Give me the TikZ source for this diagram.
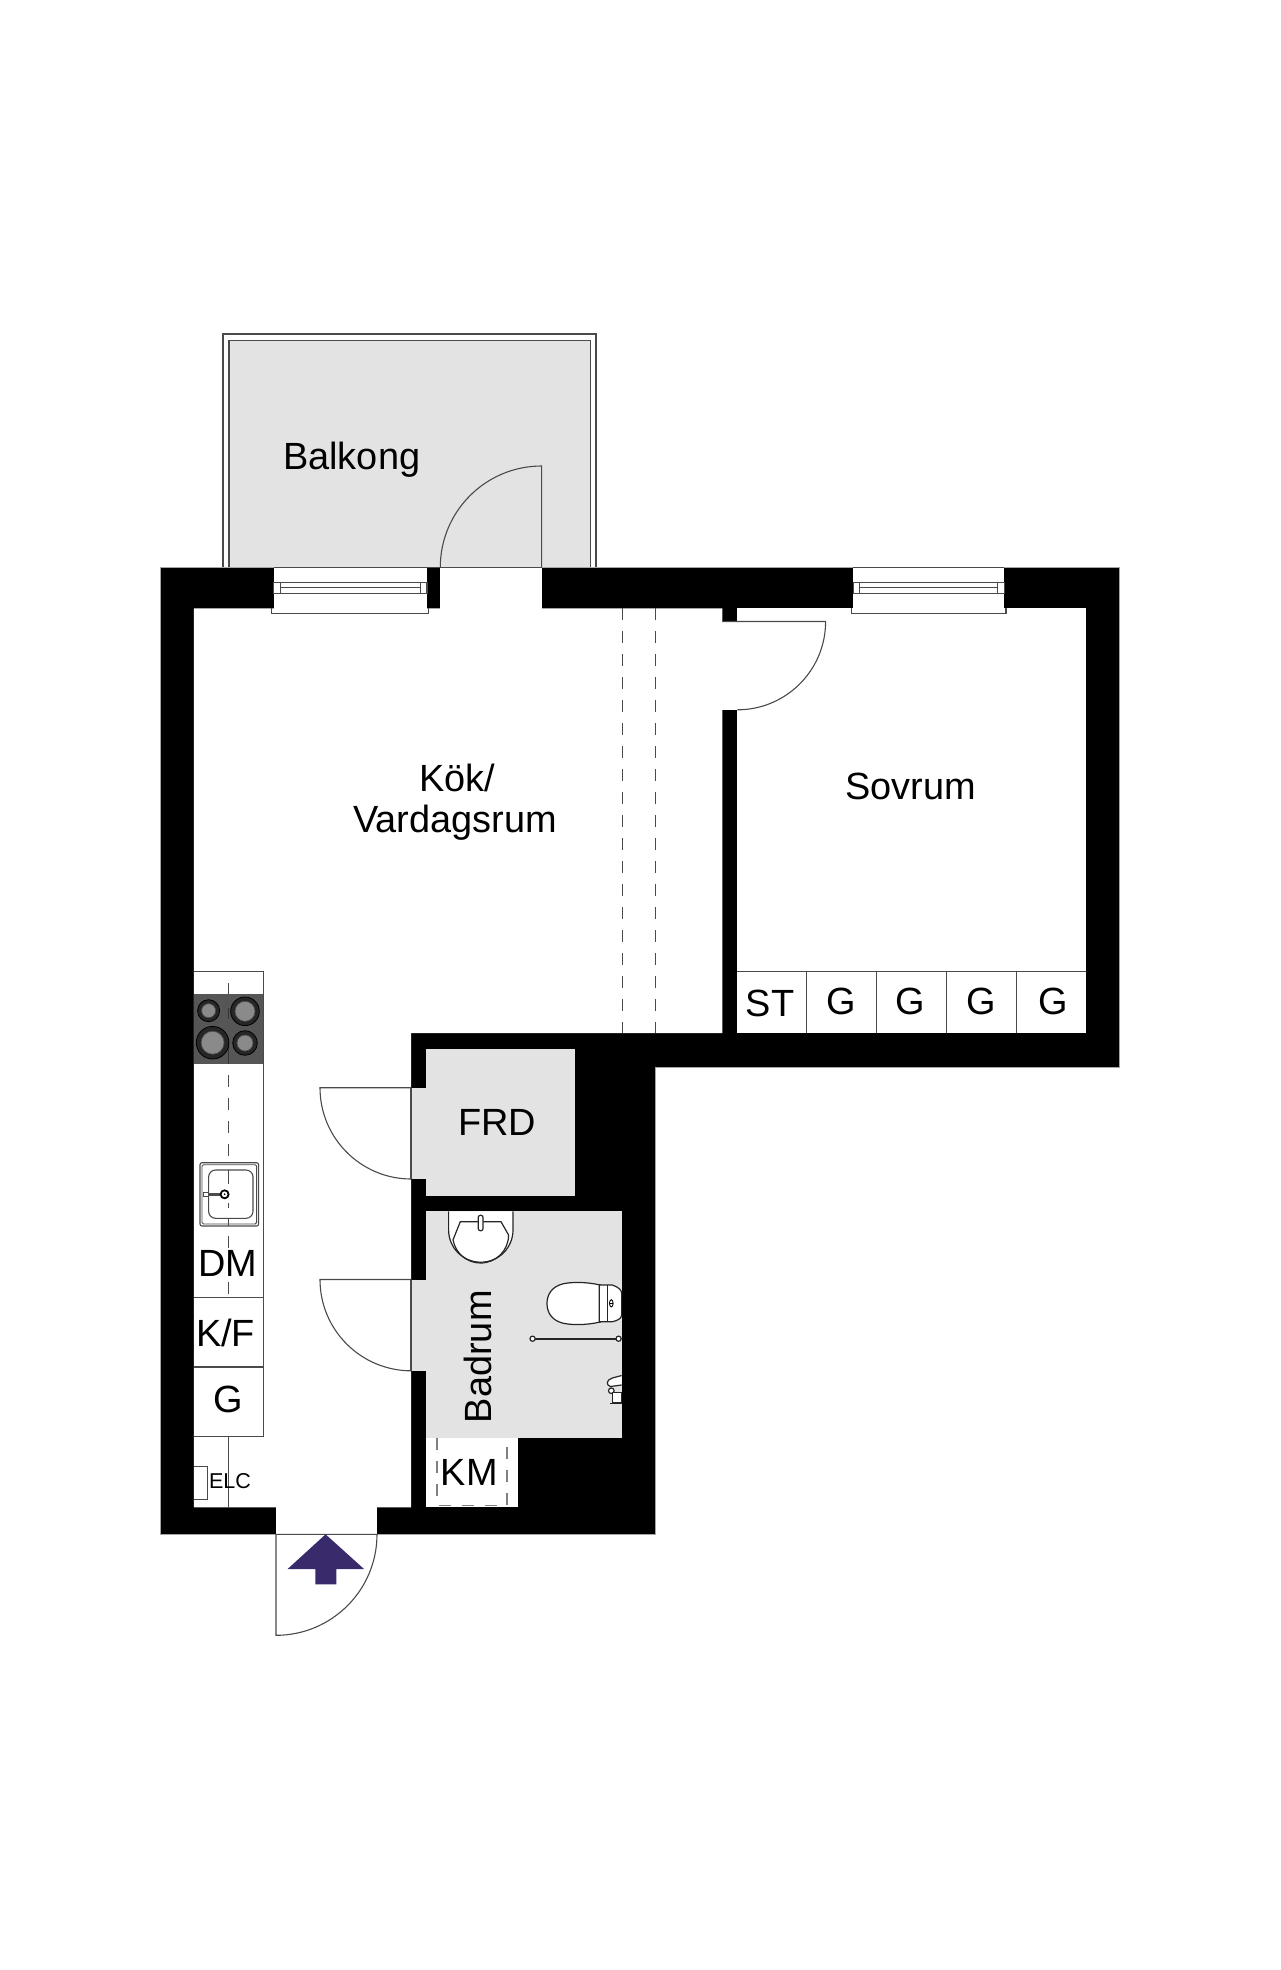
\documentclass[tikz,border=0pt]{standalone}
\usepackage{fontspec}
\setmainfont{Liberation Sans}
\definecolor{wallc}{HTML}{000000}
\definecolor{floorc}{HTML}{E3E3E3}
\definecolor{linec}{HTML}{4A4A4A}
\definecolor{hobc}{HTML}{565656}
\definecolor{burnc}{HTML}{8A8A8A}
\definecolor{arrowc}{HTML}{392A6C}
\tikzset{
 wall/.style={fill=wallc,draw=gray!70,line width=0.8pt},
 openw/.style={fill=white,draw=none},
 wetroom/.style={fill=floorc,draw=none},
 ln/.style={draw=linec,line width=1.1pt},
 fine/.style={draw=linec,line width=0.9pt},
 san/.style={draw=black!85,line width=1.2pt},
 dsh/.style={draw=linec,line width=1.1pt,dash pattern=on 12pt off 11pt},
 lab/.style={inner sep=0pt,font=\fontsize{37.9pt}{41pt}\selectfont,text=black,anchor=base},
 lab2/.style={inner sep=0pt,font=\fontsize{21.5pt}{24pt}\selectfont,text=black,anchor=base},
}
\begin{document}
\begin{tikzpicture}[x=1pt,y=-1pt]
\useasboundingbox (0,0) rectangle (1280,1970);
\fill[white] (0,0) rectangle (1280,1970);
% balcony
\fill[floorc] (229,340.3) rectangle (590.5,568);
\draw[ln] (223,568) -- (223,334) -- (596,334) -- (596,568);
\draw[ln] (229,568) -- (229,340.3) -- (590.5,340.3) -- (590.5,568);
% walls
\path[wall] (160.2,567.7) -- (1119.5,567.7) -- (1119.5,1067) -- (655.3,1067) -- (655.3,1534.3) -- (160.2,1534.3) -- cycle;
% open floors
\fill[openw] (193.8,608.3) -- (722.3,608.3) -- (722.3,1033) -- (411,1033) -- (411,1507.3) -- (193.8,1507.3) -- cycle;
\fill[openw] (737.3,608.3) rectangle (1086,1033.3);
\fill[openw] (721,621.5) rectangle (738,709.5);
\fill[openw] (440.3,567.7) rectangle (541.6,609);
\fill[openw] (276,1506) rectangle (377,1534.3);
\fill[wetroom] (426.3,1048.7) rectangle (575,1196);
\fill[wetroom] (411,1088) rectangle (427,1179.3);
\fill[wetroom] (426.3,1211.3) rectangle (621.6,1437.7);
\fill[wetroom] (411,1280) rectangle (427,1370.5);
\fill[openw] (426.3,1437.7) rectangle (518,1507);
% windows
\foreach \a/\b in {273.6/427,853.3/1004.3}{
 \fill[white] (\a,567.7) rectangle (\b,609);
 \draw[ln] (\a,567.7) -- (\b,567.7);
 \draw[ln] (\a-1.7,608.3) -- (\a-1.7,613.5) -- (\b+1.7,613.5) -- (\b+1.7,608.3);
 \draw[ln] (\a,582.3) rectangle (\b,593.5);
 \draw[ln] (\a+6.5,582.3) rectangle (\b-6.5,593.5);
 \draw[ln] (\a+6.5,587.9) -- (\b-6.5,587.9);
}
% thresholds and doors
\draw[ln] (427,567.7) -- (541.6,567.7);
\draw[ln] (541.6,567.7) -- (541.6,466) arc[start angle=90,end angle=180,radius=101.3pt];
\draw[ln] (722.3,621.5) -- (825.6,621.5) arc[start angle=0,end angle=-90,radius=88.3pt];
\draw[ln] (411,1087.7) -- (320,1087.7) arc[start angle=180,end angle=270,radius=91.3pt];
\draw[ln] (411,1279.5) -- (320,1279.5) arc[start angle=180,end angle=270,radius=91.3pt];
\draw[ln] (411,1087.7) -- (411,1179.3);
\draw[ln] (411,1279.5) -- (411,1370.7);
\draw[ln] (276,1534.3) -- (377,1534.3) arc[start angle=0,end angle=-90,radius=101pt] -- cycle;
% room divider dashes
\draw[dsh] (622.6,608.3) -- (622.6,1033);
\draw[dsh] (655.3,608.3) -- (655.3,1033);
% kitchen counter
\draw[ln] (193.8,971.3) -- (263.3,971.3) -- (263.3,1436.3) -- (193.8,1436.3);
\draw[ln] (193.8,1297.3) -- (263.3,1297.3);
\draw[ln] (193.8,1367) -- (263.3,1367);
\draw[dsh] (228.3,983) -- (228.3,1297.3);
\fill[hobc] (193.8,993.7) rectangle (263.3,1064);
\draw[ln,draw=black!80] (228.3,1008) -- (228.3,1019);
\draw[ln,draw=black!80] (228.3,1040) -- (228.3,1064);
\foreach \x/\y/\r/\c in {208.6/1010.7/11/7,245/1011.3/14.3/10,212.6/1042.7/16.3/11.5,245/1043/12.3/8}{
 \fill[black!55!hobc] (\x,\y) circle[radius=\r pt];
 \draw[line width=0.8pt,draw=black] (\x,\y) circle[radius=\r pt];
 \draw[line width=0.8pt,draw=black!85] (\x,\y) circle[radius=\r pt-2.4pt];
 \fill[burnc] (\x,\y) circle[radius=\c pt];
 \draw[line width=0.7pt,draw=black!70] (\x,\y) circle[radius=\c pt];
}
% sink
\draw[ln,rounded corners=2pt,fill=white] (200,1162.7) rectangle (258.6,1226);
\draw[fine,rounded corners=1.5pt] (202,1164.7) rectangle (256.6,1224);
\draw[ln,rounded corners=7pt] (208.6,1170) rectangle (253,1218.3);
\draw[ln] (228.3,1170) -- (228.3,1184);
\draw[ln] (228.3,1203) -- (228.3,1208);
\draw[ln] (228.3,1218) -- (228.3,1226);
\draw[line width=3pt,draw=black!70] (208,1194.3) -- (224.6,1194.3);
\draw[line width=1pt,draw=linec,fill=white] (203.8,1192.5) rectangle (208.3,1196.2);
\draw[line width=1.8pt,draw=black,fill=white] (224.6,1194.3) circle[radius=4pt];
\fill[black] (224.6,1194.3) circle[radius=1pt];
% below counter
\draw[ln] (228.3,1436.3) -- (228.3,1507.3);
\draw[ln] (193.8,1466.7) -- (207.6,1466.7) -- (207.6,1499.3) -- (193.8,1499.3);
% closet row
\draw[ln] (737.3,971.3) -- (1086,971.3);
\foreach \x in {806.6,876.6,946.6,1016.6}{\draw[ln] (\x,971.3) -- (\x,1033.3);}
% bathroom fixtures
\draw[san,fill=white] (448.6,1211.3) -- (448.6,1230) arc[start angle=180,end angle=360,radius=32.2pt] -- (513,1211.3);
\draw[san] (460.3,1221.7) -- (501,1221.7) -- (508.6,1235) arc[start angle=0,end angle=-170,radius=28pt] -- cycle;
\draw[san,fill=white,rounded corners=2pt] (478.3,1215.3) rectangle (483,1230.7);
% toilet
\draw[san,fill=white] (600.3,1285) .. controls (585,1281.5) and (570,1282) .. (562.3,1284) .. controls (551.3,1287) and (547,1295) .. (547,1303.5) .. controls (547,1312) and (551.3,1320) .. (562.3,1323) .. controls (570,1325) and (585,1325.5) .. (600.3,1322) -- cycle;
\draw[san,fill=white] (599.3,1285) -- (612.3,1285) .. controls (618.3,1287) and (621.6,1290) .. (621.6,1293) -- (621.6,1315) .. controls (621.6,1318) and (618.3,1320.5) .. (612.3,1321.7) -- (599.3,1321.7) -- cycle;
\draw[san] (607.3,1285) -- (607.3,1321.7);
\draw[fine,draw=black] (611.3,1303.3) ellipse[x radius=1.8pt,y radius=3.6pt];
\draw[fine,draw=black] (609.5,1303.3) -- (613.1,1303.3);
% rail
\draw[san,line width=1.6pt] (532.6,1338.7) -- (618.6,1338.7);
\draw[san,fill=white] (532.6,1338.7) circle[radius=2.6pt];
\draw[san,fill=white] (618.6,1338.7) circle[radius=2.6pt];
% wall tap
\draw[san,fill=white] (621.6,1375.5) -- (612.3,1378) .. controls (606,1380) and (606,1385) .. (610.3,1386.5) -- (621.6,1385);
\draw[san,fill=white] (611.3,1390.7) circle[radius=2.8pt];
\draw[san,fill=white] (612.3,1392.5) rectangle (621.6,1403);
\draw[san] (610.3,1403.5) -- (621.6,1403.5);
% KM dashes
\draw[ln,draw=gray,dash pattern=on 12pt off 11pt] (437,1438) -- (437,1505.3) -- (507,1505.3) -- (507,1438);
% entry arrow
\fill[arrowc] (325.6,1534.3) -- (364,1569) -- (336.3,1569) -- (336.3,1584.3) -- (315.3,1584.3) -- (315.3,1569) -- (287.6,1569) -- cycle;
% labels
\node[lab] (balkong) at (351.7,469) {Balkong};
\node[lab] (kok) at (457.5,791.7) {Kök/};
\node[lab] (vard) at (455,832.7) {Vardagsrum};
\node[lab] (sovrum) at (910.6,799.3) {Sovrum};
\node[lab] (st) at (770,1016) {ST};
\node[lab] (g1) at (840.8,1014.3) {G};
\node[lab] (g2) at (910.1,1014.3) {G};
\node[lab] (g3) at (980.8,1014.3) {G};
\node[lab] (g4) at (1053.1,1014.3) {G};
\node[lab] (frd) at (497.3,1135.3) {FRD};
\node[lab,rotate=90] (badrum) at (491,1356.7) {Badrum};
\node[lab] (km) at (469.3,1485) {KM};
\node[lab] (dm) at (228,1276.7) {DM};
\node[lab] (kf) at (225.5,1346) {K/F};
\node[lab] (g5) at (228,1412.7) {G};
\node[lab2] (elc) at (230,1488.3) {ELC};
\end{tikzpicture}
\end{document}
